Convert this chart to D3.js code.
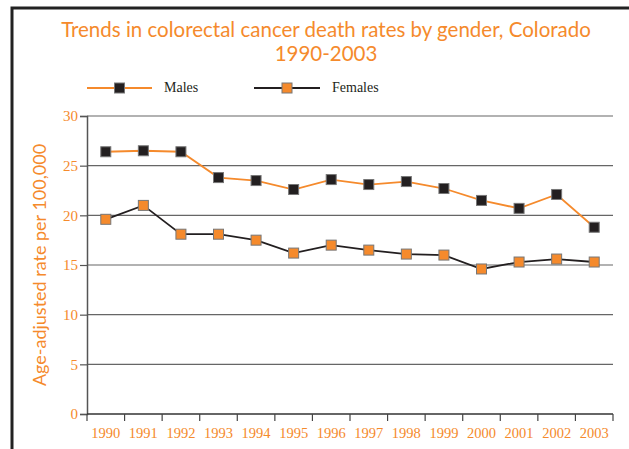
<!DOCTYPE html>
<html>
<head>
<meta charset="utf-8">
<script src="https://cdn.jsdelivr.net/npm/d3@7"></script>
<style>
  body { margin: 0; background: #fff; }
  svg { display: block; }
</style>
</head>
<body>
<svg id="chart" width="629" height="449"></svg>
<script>
const years = ["1990","1991","1992","1993","1994","1995","1996","1997","1998","1999","2000","2001","2002","2003"];
const males = [26.4, 26.5, 26.4, 23.8, 23.5, 22.6, 23.6, 23.1, 23.4, 22.7, 21.5, 20.7, 22.1, 18.8];
const females = [19.6, 21.0, 18.1, 18.1, 17.5, 16.2, 17.0, 16.5, 16.1, 16.0, 14.6, 15.3, 15.6, 15.3];
const yTicks = [0, 5, 10, 15, 20, 25, 30];

const orange = "#f58a2c";
const dark = "#231f20";

const svg = d3.select("#chart");

// frame
svg.append("path")
  .attr("d", "M12,449 V8 H629")
  .attr("fill", "none")
  .attr("stroke", "#222")
  .attr("stroke-width", 3);

svg.append("text")
  .attr("x", 326).attr("y", 37)
  .attr("text-anchor", "middle")
  .style("font-family", "Lato, sans-serif")
  .style("font-size", "20.5px")
  .attr("fill", orange)
  .text("Trends in colorectal cancer death rates by gender, Colorado");
svg.append("text")
  .attr("x", 326).attr("y", 61)
  .attr("text-anchor", "middle")
  .style("font-family", "Lato, sans-serif")
  .style("font-size", "20.5px")
  .attr("fill", orange)
  .text("1990-2003");

const x = d3.scaleBand().domain(years).range([87, 613]);
const y = d3.scaleLinear().domain([0, 30]).range([414, 116]);

// grid
svg.append("g")
  .selectAll("line")
  .data(yTicks.filter(d => d > 0))
  .join("line")
  .attr("x1", 87).attr("x2", 613)
  .attr("y1", d => y(d)).attr("y2", d => y(d))
  .attr("stroke", "#666")
  .attr("stroke-width", 1.2);

// y axis
const yAxis = svg.append("g")
  .attr("transform", "translate(87,0)")
  .call(d3.axisLeft(y).tickValues(yTicks).tickSize(7).tickPadding(2));
yAxis.select(".domain").attr("stroke", "#555").attr("stroke-width", 1.5);
yAxis.selectAll(".tick line").attr("stroke", "#555").attr("stroke-width", 1.2);
yAxis.selectAll("text")
  .attr("fill", orange)
  .style("font-family", "Liberation Serif, serif")
  .style("font-size", "15px");

// x axis with ticks at band boundaries
const xAxisG = svg.append("g");
xAxisG.append("line")
  .attr("x1", 87).attr("x2", 613)
  .attr("y1", 414).attr("y2", 414)
  .attr("stroke", "#333").attr("stroke-width", 1.5);
const bounds = years.map(d => x(d)).concat([x(years[years.length - 1]) + x.bandwidth()]);
xAxisG.selectAll(".bt")
  .data(bounds)
  .join("line")
  .attr("class", "bt")
  .attr("x1", d => d).attr("x2", d => d)
  .attr("y1", 414).attr("y2", 421)
  .attr("stroke", "#444").attr("stroke-width", 1.2);
xAxisG.selectAll("text")
  .data(years)
  .join("text")
  .attr("x", d => x(d) + x.bandwidth() / 2)
  .attr("y", 438)
  .attr("text-anchor", "middle")
  .attr("fill", orange)
  .style("font-family", "Liberation Serif, serif")
  .style("font-size", "14.5px")
  .text(d => d);

// y title
svg.append("text")
  .attr("transform", "translate(46,265) rotate(-90)")
  .attr("text-anchor", "middle")
  .style("font-family", "Lato, sans-serif")
  .style("font-size", "18px")
  .attr("fill", orange)
  .text("Age-adjusted rate per 100,000");

const line = d3.line()
  .x((d, i) => x(years[i]) + x.bandwidth() / 2)
  .y(d => y(d));

function drawSeries(values, lineColor, markerFill) {
  svg.append("path")
    .datum(values)
    .attr("d", line)
    .attr("fill", "none")
    .attr("stroke", lineColor)
    .attr("stroke-width", 1.8);
  svg.append("g")
    .selectAll("rect")
    .data(values)
    .join("rect")
    .attr("x", (d, i) => x(years[i]) + x.bandwidth() / 2 - 5)
    .attr("y", d => y(d) - 5)
    .attr("width", 10).attr("height", 10)
    .attr("fill", markerFill)
    .attr("stroke", "#777")
    .attr("stroke-width", 1);
}
drawSeries(males, orange, dark);
drawSeries(females, dark, orange);

// legend
const legend = [
  { label: "Males", x1: 87, x2: 152, tx: 164, lineColor: orange, fill: dark },
  { label: "Females", x1: 254, x2: 320, tx: 332, lineColor: dark, fill: orange }
];
legend.forEach(l => {
  const g = svg.append("g");
  g.append("line")
    .attr("x1", l.x1).attr("x2", l.x2)
    .attr("y1", 88).attr("y2", 88)
    .attr("stroke", l.lineColor).attr("stroke-width", 1.8);
  g.append("rect")
    .attr("x", (l.x1 + l.x2) / 2 - 5)
    .attr("y", 83).attr("width", 10).attr("height", 10)
    .attr("fill", l.fill).attr("stroke", "#777");
  g.append("text")
    .attr("x", l.tx)
    .attr("y", 92)
    .style("font-family", "Liberation Serif, serif")
    .style("font-size", "14px")
    .attr("fill", dark)
    .text(l.label);
});
</script>
</body>
</html>
